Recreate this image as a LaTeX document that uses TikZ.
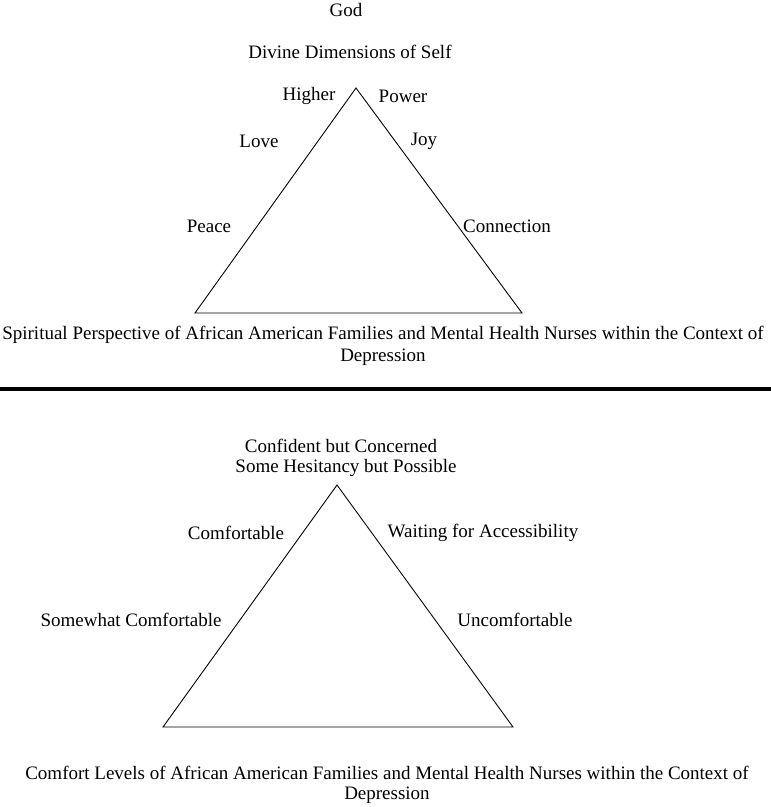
\documentclass[tikz,border=0pt]{standalone}
\usepackage{fontspec}
\setmainfont{Liberation Serif}
\begin{document}
\begin{tikzpicture}[x=1pt,y=-1pt,
  lbl/.style={inner sep=0pt,font=\fontsize{19}{22}\selectfont},
  tri/.style={draw=black,line width=0.9pt,line join=miter}]
\useasboundingbox[fill=white] (0,0) rectangle (771,807);
% top part
\node[lbl] (god) at (346,10) {God};
\node[lbl] (divine) at (350,52) {Divine Dimensions of Self};
\node[lbl] (higher) at (309,96) {Higher};
\node[lbl] (power) at (403,96) {Power};
\node[lbl] (love) at (259,141) {Love};
\node[lbl] (joy) at (424,141) {Joy};
\node[lbl] (peace) at (209,226) {Peace};
\node[lbl] (connection) at (507,226) {Connection};
\coordinate (ta) at (356,88);
\coordinate (tl) at (195,313);
\coordinate (tr) at (522,313);
\draw[tri] (ta) -- (tr) -- (tl) -- cycle;
\node[lbl] (cap1a) at (383,335) {Spiritual Perspective of African American Families and Mental Health Nurses within the Context of};
\node[lbl] (cap1b) at (383,357) {Depression};
% separator
\coordinate (sepl) at (0,389);
\coordinate (sepr) at (771,389);
\draw[line width=4pt] (sepl) -- (sepr);
% bottom part
\node[lbl] (conf) at (341,446) {Confident but Concerned};
\node[lbl] (hes) at (346,468) {Some Hesitancy but Possible};
\node[lbl] (comf) at (236,533) {Comfortable};
\node[lbl] (wait) at (483,533) {Waiting for Accessibility};
\node[lbl] (somew) at (131,620) {Somewhat Comfortable};
\node[lbl] (uncomf) at (515,620) {Uncomfortable};
\coordinate (ba) at (337,485);
\coordinate (bl) at (163,727);
\coordinate (br) at (513,727);
\draw[tri] (ba) -- (br) -- (bl) -- cycle;
\node[lbl] (cap2a) at (387,773) {Comfort Levels of African American Families and Mental Health Nurses within the Context of};
\node[lbl] (cap2b) at (387,795) {Depression};
\end{tikzpicture}
\end{document}
